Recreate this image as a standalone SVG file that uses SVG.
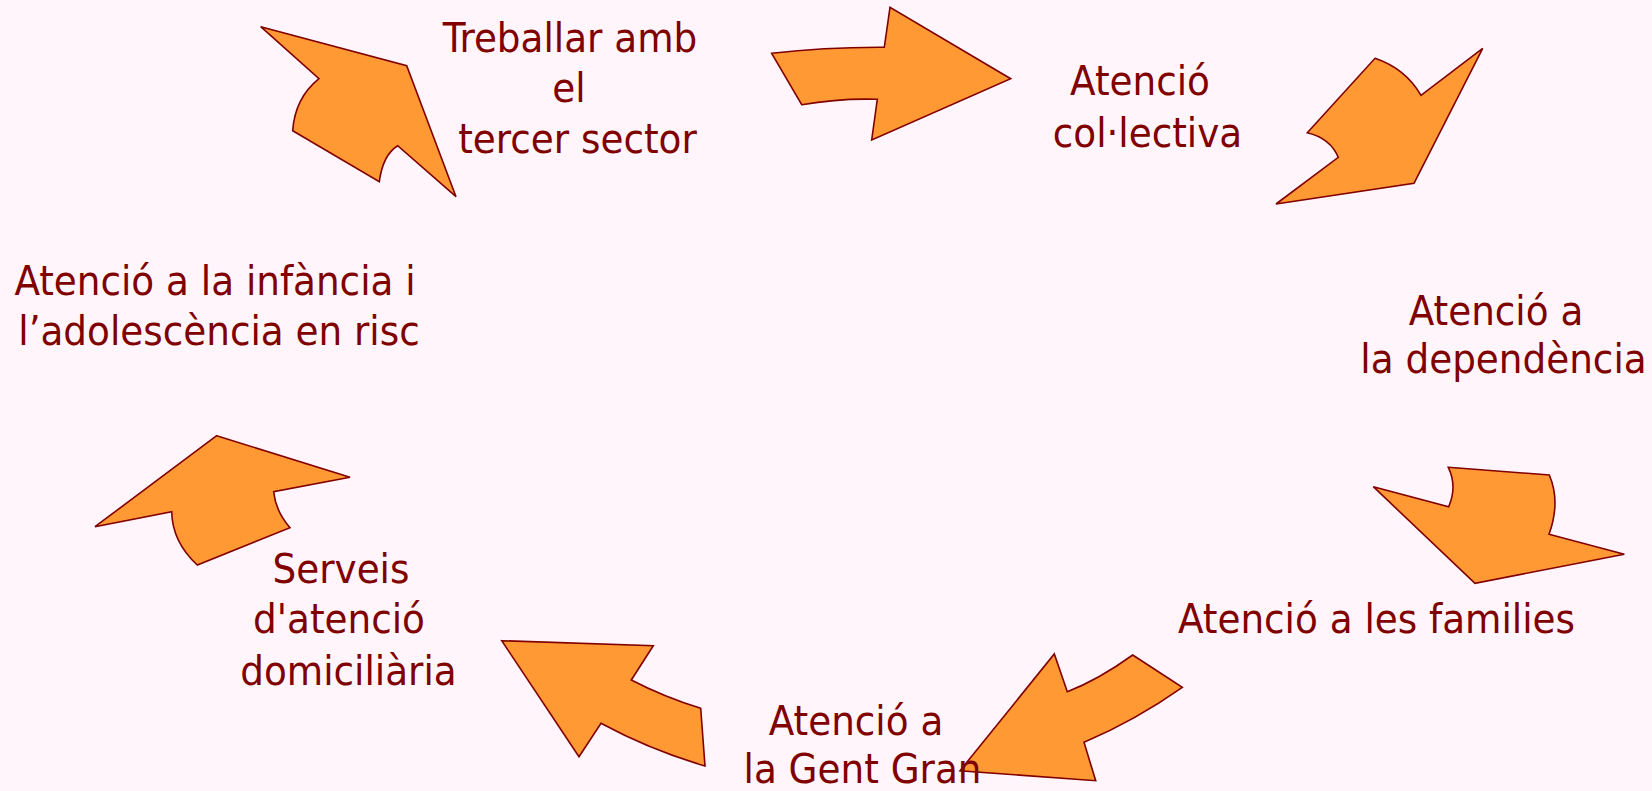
<svg xmlns="http://www.w3.org/2000/svg" width="1652" height="791" viewBox="0 0 1652 791">
<style>
.bg{fill:#FFF5FA}
.arr{fill:#FF9933;stroke:#800000;stroke-width:1.6;stroke-linejoin:miter}
.lbl{font-family:"DejaVu Sans Condensed","DejaVu Sans",sans-serif;font-stretch:condensed;font-size:41.5px;fill:#800000;text-anchor:middle}
</style>
<rect class="bg" x="0" y="0" width="1652" height="791"/>
<g id="connectors">
<path class="arr" d="M260.7,26.7 L406.7,65.7 L456,196.7 L397.7,145.7 Q382.8,155 379.3,181.7 L292.7,130.7 Q295,98 319,78.7 Z"/>
<path class="arr" d="M771.7,53.3 Q825.3,47 884.3,47.3 L890,7.3 L1010.7,78.7 L871.7,140 L877.3,99.3 Q840.5,98 801.7,104.7 Z"/>
<path class="arr" d="M1375,58.3 Q1405.3,68.5 1421,95.3 L1482.7,48.3 L1414,183.3 L1276,204 L1338.3,157.3 Q1330.5,138.3 1307.3,132.7 Z"/>
<path class="arr" d="M1448.3,467.3 L1549.3,475 Q1560.8,502 1549,534.3 L1624.3,554.3 L1475,583.3 L1373.3,486.7 L1448.7,506.7 Q1457.5,486.3 1448.3,467.3 Z"/>
<path class="arr" d="M1132.7,655 L1182.3,687.3 Q1136,720 1084,742.3 L1095.7,780.7 L960,770.7 L1054.3,654 L1067.3,691.7 Q1098,680 1132.7,655 Z"/>
<path class="arr" d="M501.7,640.7 L653.3,645.7 L631.3,680 Q664,697 700.7,708.3 L705,766 Q650.3,750 601,723.3 L579,756.7 Z"/>
<path class="arr" d="M216.7,435.7 L350,477.3 L273.7,491.7 Q275.5,511 290,527.7 L197.3,565 Q172.2,541.7 171.7,511.7 L95,526.7 Z"/>
</g>
<g id="node-tercer-sector">
<text class="lbl" x="570" y="52">Treballar amb</text>
<text class="lbl" x="569" y="102">el</text>
<text class="lbl" x="577.5" y="153">tercer sector</text>
</g>
<g id="node-collectiva">
<text class="lbl" x="1140" y="95">Atenció</text>
<text class="lbl" x="1147.5" y="147">col·lectiva</text>
</g>
<g id="node-dependencia">
<text class="lbl" x="1496" y="325">Atenció a</text>
<text class="lbl" x="1503.5" y="373">la dependència</text>
</g>
<g id="node-families">
<text class="lbl" x="1376.5" y="633">Atenció a les families</text>
</g>
<g id="node-gent-gran">
<text class="lbl" x="856" y="735">Atenció a</text>
<text class="lbl" x="862.5" y="783">la Gent Gran</text>
</g>
<g id="node-domiciliaria">
<text class="lbl" x="341" y="583">Serveis</text>
<text class="lbl" x="339" y="633">d'atenció</text>
<text class="lbl" x="348.5" y="685">domiciliària</text>
</g>
<g id="node-infancia">
<text class="lbl" x="215" y="295">Atenció a la infància i</text>
<text class="lbl" x="219" y="345">l’adolescència en risc</text>
</g>
</svg>
